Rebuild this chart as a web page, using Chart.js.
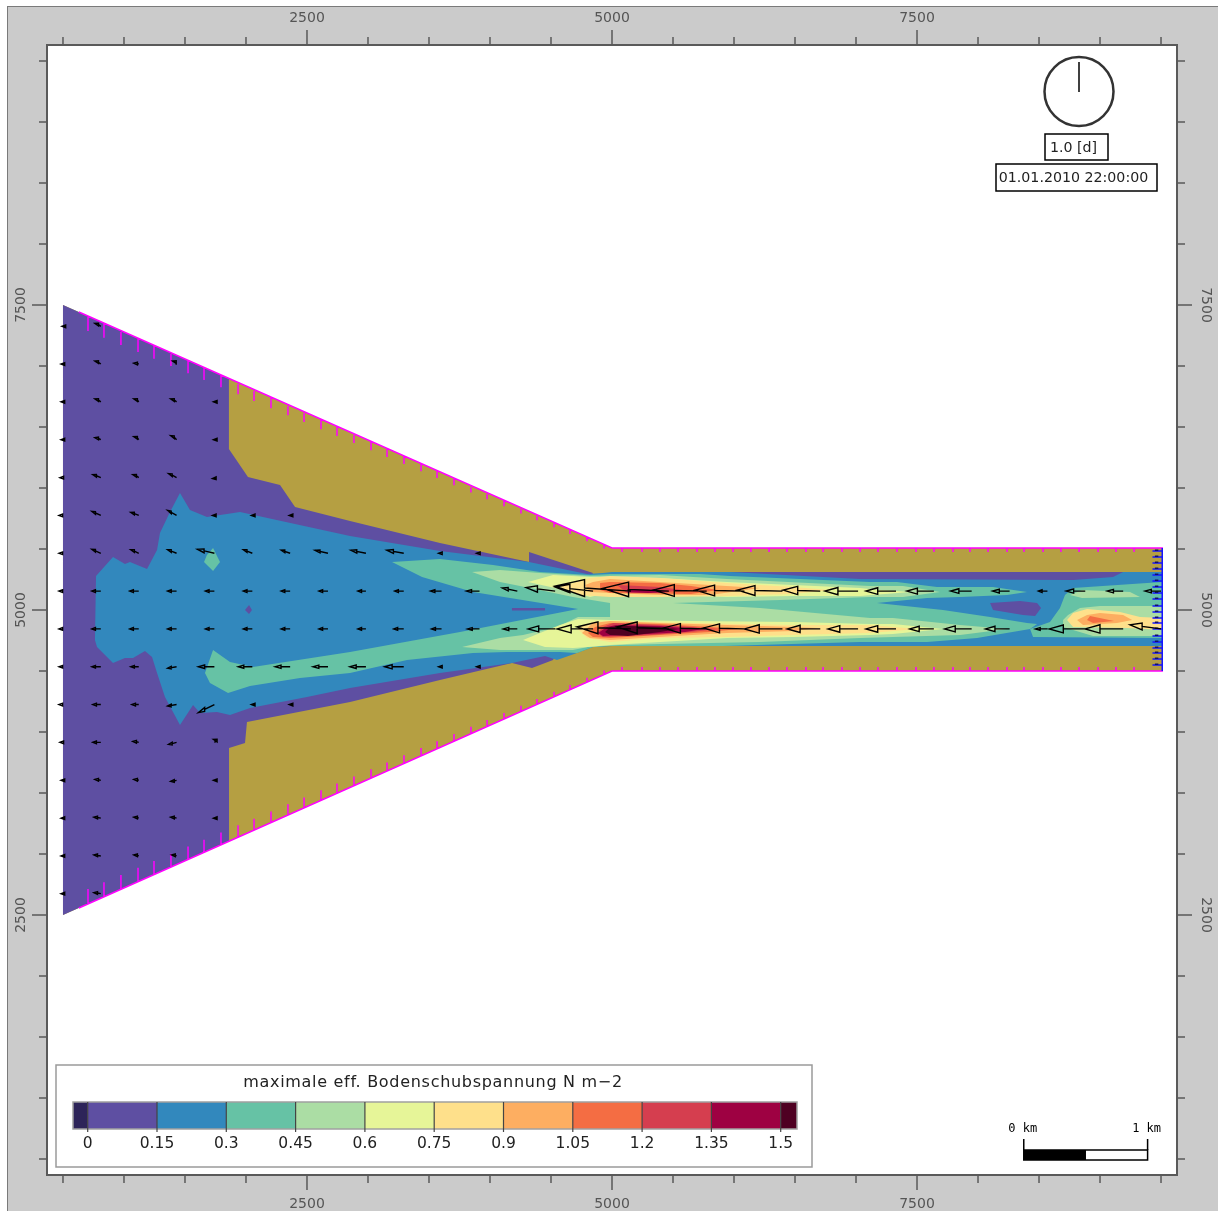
<!DOCTYPE html>
<html>
<head>
<meta charset="utf-8">
<style>
    html, body { margin: 0; padding: 0; background: #fff; }
    canvas { display: block; }
</style>
<script src="https://cdn.jsdelivr.net/npm/chart.js@4/dist/chart.umd.min.js"></script>
</head>
<body>
<canvas id="chart" width="1218" height="1211"></canvas>
<script>
// colour classes of the shear stress legend
const levelValues = [0, 0.15, 0.3, 0.45, 0.6, 0.75, 0.9, 1.05, 1.2, 1.35, 1.5];
const levelLabels = ['0', '0.15', '0.3', '0.45', '0.6', '0.75', '0.9', '1.05', '1.2', '1.35', '1.5'];
const levelColors = ['#2d2459', '#5e4fa2', '#3288bd', '#66c2a5', '#abdda4', '#e6f598', '#fee08b', '#fdae61', '#f46d43', '#d53e4f', '#9e0142', '#4f0022'];
const dryColor = '#b59f42';
const legendTitle = 'maximale eff. Bodenschubspannung N m\u22122';

const axisLabelValues = [2500, 5000, 7500];
const axisTickValues = [500, 1000, 1500, 2000, 2500, 3000, 3500, 4000, 4500, 5000, 5500, 6000, 6500, 7000, 7500, 8000, 8500, 9000, 9500];

// model area and contour regions, [x, y] in metres
const domain = [[500, 7500], [5000, 5508], [9516, 5508], [9516, 4500], [5000, 4500], [500, 2500]];
const class015 = [[500, 7500], [1860, 6895], [1860, 6320], [2016, 6090], [2279, 6025], [2402, 5844], [2853, 5730], [3590, 5549], [4320, 5393], [4320, 5475], [4844, 5303], [4517, 4590], [4344, 4525], [4180, 4566], [3590, 4426], [2853, 4246], [2008, 4082], [1992, 3910], [1861, 3869], [1861, 3107], [500, 2500]];
const class030 = [[771, 5279], [910, 5434], [1008, 5377], [1049, 5393], [1189, 5336], [1271, 5492], [1295, 5631], [1377, 5803], [1459, 5959], [1541, 5820], [1680, 5762], [1951, 5803], [2853, 5607], [3590, 5484], [4320, 5393], [4795, 5295], [4926, 5303], [5000, 5311], [9516, 5311], [9516, 4705], [5000, 4705], [4844, 4697], [4713, 4648], [4549, 4590], [4451, 4623], [4180, 4566], [3590, 4484], [2853, 4361], [2500, 4287], [2033, 4197], [1869, 4139], [1762, 4164], [1623, 4156], [1566, 4221], [1459, 4057], [1336, 4287], [1271, 4484], [1230, 4615], [1172, 4664], [1074, 4607], [1008, 4607], [910, 4566], [779, 4697], [762, 4754]];
const stripNorth = [[5967, 5311], [9189, 5311], [9107, 5270], [8779, 5246], [7033, 5254]];
const spotWest = [[2025, 5041], [2049, 5000], [2025, 4967], [1992, 5000]];
const slitThroat = [[4180, 5016], [4451, 5016], [4451, 4996], [4180, 4996]];
const spotEast = [[8099, 5057], [8345, 5074], [8484, 5057], [8517, 5016], [8468, 4951], [8369, 4959], [8123, 5000]];
const class045Spot = [[1730, 5508], [1787, 5393], [1730, 5320], [1656, 5393], [1680, 5451]];
const class045 = [[3197, 5393], [3590, 5418], [4025, 5369], [4410, 5311], [4820, 5287], [4984, 5295], [5721, 5295], [5967, 5279], [7115, 5230], [7336, 5230], [7664, 5189], [8123, 5189], [8402, 5148], [8238, 5123], [7853, 5107], [7582, 5098], [7172, 5057], [7713, 5000], [8099, 4943], [8402, 4893], [8484, 4885], [8427, 4844], [7992, 4770], [7582, 4738], [7033, 4738], [5910, 4705], [4984, 4705], [4844, 4697], [4713, 4648], [4574, 4656], [4139, 4656], [3861, 4648], [3320, 4590], [2853, 4484], [2443, 4443], [2033, 4377], [1853, 4320], [1705, 4402], [1664, 4484], [1730, 4672], [1869, 4574], [2057, 4533], [2853, 4656], [3754, 4820], [4722, 5008], [3861, 5148], [3443, 5271]];
const class045East = [[8713, 5123], [8779, 5180], [9386, 5221], [9516, 5230], [9516, 4770], [8451, 4779], [8427, 4844], [8590, 4902], [8672, 5016]];
const class060 = [[3853, 5311], [4082, 5328], [4410, 5303], [4820, 5279], [5394, 5287], [5943, 5254], [7115, 5197], [7385, 5197], [7689, 5148], [7385, 5107], [7115, 5107], [6377, 5082], [5500, 5057], [6213, 5016], [7115, 4934], [7303, 4934], [7853, 4877], [8238, 4844], [7853, 4795], [7303, 4779], [7033, 4770], [6213, 4738], [5394, 4721], [5065, 4713], [4803, 4697], [4680, 4672], [4082, 4672], [3771, 4697], [4082, 4770], [4271, 4795], [4549, 4861], [4722, 4943], [4984, 4943], [4984, 5057], [4680, 5107], [4328, 5180], [4082, 5230]];
const class060East = [[8697, 4918], [8738, 4959], [8836, 5016], [9000, 5033], [9516, 5033], [9516, 4787], [8943, 4787], [8697, 4861]];
const class060Spot = [[8754, 5123], [8853, 5164], [9246, 5148], [9328, 5107], [8853, 5098]];
const class075North = [[4312, 5230], [4517, 5287], [4820, 5271], [5394, 5262], [5943, 5230], [6484, 5205], [7033, 5180], [7197, 5164], [7443, 5148], [7033, 5115], [6484, 5115], [5943, 5107], [5394, 5123], [4959, 5139], [4820, 5107], [4680, 5148], [4533, 5180]];
const class075South = [[4271, 4754], [4410, 4811], [4574, 4877], [4722, 4926], [4984, 4918], [5648, 4910], [6484, 4902], [7115, 4885], [7303, 4885], [7713, 4844], [7303, 4803], [7115, 4795], [6484, 4779], [5943, 4770], [5394, 4738], [4984, 4713], [4803, 4697], [4680, 4689], [4451, 4697]];
const class090North = [[4574, 5189], [4820, 5262], [4984, 5279], [5394, 5262], [5943, 5221], [6484, 5189], [6787, 5164], [6484, 5131], [5943, 5115], [5394, 5107], [4984, 5107], [4738, 5123]];
const class090South = [[4713, 4852], [4844, 4902], [4984, 4910], [5648, 4893], [6484, 4877], [7115, 4877], [7509, 4844], [7115, 4811], [6484, 4795], [5943, 4779], [5394, 4770], [4984, 4738], [4795, 4770]];
const class090East = [[8730, 4918], [8779, 4975], [8894, 5008], [9164, 4984], [9328, 4943], [9516, 4934], [9516, 4836], [9222, 4852], [8779, 4861]];
const class105North = [[4779, 5205], [4844, 5230], [4984, 5254], [5394, 5230], [5803, 5205], [6213, 5180], [5803, 5123], [5394, 5123], [4984, 5139], [4820, 5148]];
const class105South = [[4754, 4811], [4844, 4893], [4984, 4910], [5394, 4893], [5943, 4877], [6484, 4861], [6689, 4852], [6484, 4828], [5943, 4811], [5517, 4787], [4984, 4754], [4820, 4770]];
const class105East = [[8812, 4918], [8894, 4959], [9000, 4975], [9189, 4959], [9263, 4918], [9140, 4893], [8861, 4877]];
const class120North = [[4902, 5221], [4984, 5230], [5394, 5221], [5648, 5197], [5869, 5164], [5648, 5131], [4984, 5139], [4902, 5164]];
const class120South = [[4803, 4811], [4861, 4861], [4984, 4893], [5394, 4885], [5803, 4861], [6033, 4844], [5803, 4820], [5394, 4795], [4984, 4770], [4844, 4779]];
const class120East = [[8894, 4918], [8918, 4951], [9115, 4910], [8943, 4893]];
const class135North = [[5041, 5205], [5394, 5189], [5582, 5164], [5394, 5139], [5123, 5139]];
const class135South = [[4877, 4811], [4926, 4861], [5008, 4893], [5394, 4877], [5648, 4861], [5869, 4844], [5648, 4820], [5320, 4795], [4926, 4779]];
const class150North = [[5123, 5172], [5369, 5164], [5459, 5148], [5295, 5139], [5131, 5148]];
const class150South = [[4886, 4811], [4959, 4861], [5033, 4877], [5394, 4869], [5599, 4852], [5746, 4844], [5599, 4820], [5295, 4803], [4926, 4787]];
const classTopSouth = [[4943, 4820], [4984, 4861], [5107, 4869], [5394, 4861], [5541, 4844], [5394, 4820], [5131, 4787], [4984, 4795]];

// current vectors: tail on the grid, du / dv = drawn arrow in metres
const arrowColumns = [500, 810, 1121, 1431, 1741, 2052, 2362, 2672, 2983, 3293, 3603, 3914, 4224, 4534, 4845, 5155, 5466, 5776, 6086, 6397, 6707, 7017, 7328, 7638, 7948, 8259, 8569, 8879, 9190, 9500];
const arrowRows = [7325, 7016, 6706, 6396, 6085, 5775, 5465, 5155, 4845, 4535, 4225, 3915, 3604, 3294, 2984, 2675];
const arrowDu = [
    [8, 49],
    [16, 49, 41, 33],
    [16, 49, 41, 49, 8],
    [16, 49, 41, 49, 8],
    [25, 66, 49, 66, 16],
    [33, 74, 66, 74, 16, 8, 8],
    [33, 74, 66, 74, 139, 74, 74, 107, 123, 139, 25, 25],
    [33, 74, 74, 74, 74, 74, 74, 74, 66, 74, 90, 107, 123, 238, 312, 623, 541, 435, 402, 369, 303, 271, 246, 221, 172, 139, 74, 156, 131, 131],
    [33, 74, 74, 74, 74, 74, 74, 74, 66, 82, 82, 98, 115, 221, 295, 443, 426, 353, 336, 312, 271, 246, 246, 197, 221, 197, 98, 295, 312, 254],
    [33, 74, 66, 74, 131, 115, 123, 123, 131, 156, 25, 25],
    [33, 66, 57, 74, 131, 8, 8],
    [25, 66, 49, 66, 8],
    [16, 49, 41, 49, 8],
    [16, 57, 41, 49, 8],
    [16, 57, 41, 41],
    [16, 57]
];
const arrowDv = [
    [0, 25],
    [0, 25, 8, 25],
    [0, 25, 25, 25, 0],
    [0, 16, 25, 33, 0],
    [0, 25, 25, 33, -8],
    [0, 33, 25, 41, 0, 0, 0],
    [0, 33, 29, 29, 33, 29, 25, 25, 25, 25, 0, 0],
    [0, 0, 0, 0, 0, 0, 0, 0, 0, 0, 0, 0, 25, 29, 33, 41, 22, 8, 8, 8, 8, 0, 0, 0, 0, 0, 0, 0, 0, 0],
    [0, 0, 0, 0, 0, 0, 0, 0, 0, 0, 0, 0, 0, 0, 0, 16, 16, 8, 8, 0, 0, 0, 0, 0, 0, 0, 0, 0, 0, 33],
    [0, 0, 0, -12, 0, 0, 0, 0, 0, 0, 0, 0],
    [0, 0, 0, -12, -66, 0, 0],
    [0, 0, 8, -16, 25],
    [0, 8, 8, -8, 0],
    [0, 8, 8, 8, 0],
    [0, 8, 8, 8],
    [0, 8]
];

// boundary marks along the land edge and the open boundary
const slopeMarkX = [705, 836, 975, 1115, 1246, 1385, 1525, 1656, 1795, 1935, 2066, 2205, 2344, 2476, 2615, 2746, 2885, 3025, 3156, 3295, 3435, 3566, 3705, 3844, 3976, 4115, 4254, 4385, 4525, 4656, 4795, 4935];
const slopeMarkLength = [123, 120, 117, 114, 111, 108, 105, 103, 100, 97, 94, 91, 88, 85, 82, 79, 76, 73, 70, 67, 64, 61, 59, 56, 53, 50, 47, 44, 41, 38, 35, 33];
const channelMarkX = [5082, 5246, 5393, 5541, 5697, 5844, 5992, 6139, 6287, 6434, 6590, 6730, 6885, 7033, 7180, 7336, 7492, 7639, 7795, 7934, 8082, 8238, 8377, 8533, 8680, 8828, 8984, 9131, 9279];
const channelMarkLength = 33;
const inflowMarkY = [5484, 5435, 5385, 5336, 5287, 5238, 5189, 5139, 5090, 5033, 4984, 4934, 4893, 4844, 4787, 4738, 4689, 4648, 4598, 4549];

const toPoints = (pairs) => pairs.map(([x, y]) => ({ x, y }));
const GAP = { x: NaN, y: NaN };

function regionDataset(pairs, color) {
    return {
        data: toPoints(pairs),
        showLine: true,
        fill: 'shape',
        backgroundColor: color,
        borderColor: color,
        borderWidth: 0,
        pointRadius: 0,
        tension: 0
    };
}

function pathDataset(points, color, width) {
    return {
        data: points,
        showLine: true,
        fill: false,
        borderColor: color,
        borderWidth: width,
        pointRadius: 0,
        tension: 0,
        spanGaps: false
    };
}

function buildArrowPath() {
    const points = [];
    arrowRows.forEach((y, row) => {
        arrowDu[row].forEach((du, col) => {
            const dv = arrowDv[row][col];
            const tail = { x: arrowColumns[col], y };
            const tip = { x: tail.x - du, y: y + dv };
            // tiny arrows still show a head, as in the original
            const headLength = Math.max(du * 0.39, 30);
            const base = { x: tip.x + headLength, y: tip.y - dv * 0.39 };
            const half = Math.max(Math.hypot(du, dv) * 0.11, 11);
            points.push(tail, base,
                { x: base.x, y: base.y + half }, tip, { x: base.x, y: base.y - half }, base, GAP);
        });
    });
    return points;
}

function slopeEdge(x, north) {
    const drop = (x - 500) * (1992 / 4500);
    return north ? 7500 - drop : 2500 + drop * (2000 / 1992);
}

function buildMagentaPath() {
    const points = [
        { x: 630, y: slopeEdge(630, true) }, { x: 5000, y: 5508 }, { x: 9516, y: 5508 }, GAP,
        { x: 630, y: slopeEdge(630, false) }, { x: 5000, y: 4500 }, { x: 9516, y: 4500 }, GAP
    ];
    slopeMarkX.forEach((x, i) => {
        const north = slopeEdge(x, true);
        const south = slopeEdge(x, false);
        points.push({ x, y: north }, { x, y: north - slopeMarkLength[i] }, GAP);
        points.push({ x, y: south }, { x, y: south + slopeMarkLength[i] }, GAP);
    });
    channelMarkX.forEach((x) => {
        points.push({ x, y: 5508 }, { x, y: 5508 - channelMarkLength }, GAP);
        points.push({ x, y: 4500 }, { x, y: 4500 + channelMarkLength }, GAP);
    });
    return points;
}

function buildInflowPath() {
    const points = [{ x: 9510, y: 5508 }, { x: 9510, y: 4500 }, GAP];
    inflowMarkY.forEach((y) => {
        points.push({ x: 9430, y }, { x: 9516, y }, GAP);
    });
    return points;
}

function buildInflowHeads() {
    const points = [];
    inflowMarkY.forEach((y) => {
        points.push({ x: 9450, y: y + 6 }, { x: 9478, y: y + 6 }, GAP);
    });
    return points;
}

const regions = [
    [domain, dryColor],
    [class015, levelColors[1]],
    [class030, levelColors[2]],
    [stripNorth, levelColors[1]],
    [spotWest, levelColors[1]],
    [slitThroat, levelColors[1]],
    [class045, levelColors[3]],
    [class045East, levelColors[3]],
    [class045Spot, levelColors[3]],
    [spotEast, levelColors[1]],
    [class060, levelColors[4]],
    [class060East, levelColors[4]],
    [class060Spot, levelColors[4]],
    [class075North, levelColors[5]],
    [class075South, levelColors[5]],
    [class090North, levelColors[6]],
    [class090South, levelColors[6]],
    [class090East, levelColors[6]],
    [class105North, levelColors[7]],
    [class105South, levelColors[7]],
    [class105East, levelColors[7]],
    [class120North, levelColors[8]],
    [class120South, levelColors[8]],
    [class120East, levelColors[8]],
    [class135North, levelColors[9]],
    [class135South, levelColors[9]],
    [class150North, levelColors[10]],
    [class150South, levelColors[10]],
    [classTopSouth, levelColors[11]]
];

const datasets = regions.map(([pairs, color]) => regionDataset(pairs, color));
datasets.push(pathDataset(buildMagentaPath(), '#ff00ff', 1.5));
datasets.push(pathDataset(buildInflowPath(), '#1414ff', 1.5));
datasets.push(pathDataset(buildInflowHeads(), '#10106a', 1.5));
datasets.push(pathDataset(buildArrowPath(), '#000000', 1.4));
// later entries paint on top
datasets.forEach((d, i) => { d.order = datasets.length - i; });

const TICK_COLOR = '#5a5a5a';
const TEXT_COLOR = '#222222';

const backdropPlugin = {
    id: 'backdrop',
    beforeDraw(chart) {
        const { ctx, chartArea: a } = chart;
        ctx.save();
        ctx.fillStyle = '#ffffff';
        ctx.fillRect(0, 0, chart.width, chart.height);
        ctx.fillStyle = '#cbcbcb';
        ctx.fillRect(8, 7, chart.width - 8, chart.height - 7);
        ctx.strokeStyle = '#7a7a7a';
        ctx.lineWidth = 1;
        ctx.strokeRect(7.5, 6.5, chart.width, chart.height);
        ctx.fillStyle = '#ffffff';
        ctx.fillRect(a.left, a.top, a.right - a.left, a.bottom - a.top);
        ctx.restore();
    }
};

// the axes of the original carry two tick lengths
const axisTicksPlugin = {
    id: 'axisTicks',
    afterDraw(chart) {
        const { ctx, chartArea: a, scales } = chart;
        ctx.save();
        ctx.strokeStyle = TICK_COLOR;
        ctx.lineWidth = 1.5;
        ctx.beginPath();
        axisTickValues.forEach((v) => {
            const len = axisLabelValues.includes(v) ? 15 : 8;
            const px = scales.x.getPixelForValue(v);
            const py = scales.y.getPixelForValue(v);
            ctx.moveTo(px, a.top); ctx.lineTo(px, a.top - len);
            ctx.moveTo(px, a.bottom); ctx.lineTo(px, a.bottom + len);
            ctx.moveTo(a.left, py); ctx.lineTo(a.left - len, py);
            ctx.moveTo(a.right, py); ctx.lineTo(a.right + len, py);
        });
        ctx.stroke();
        ctx.restore();
    }
};

function boxedText(ctx, text, left, top, right, bottom) {
    ctx.strokeStyle = '#000';
    ctx.lineWidth = 1.5;
    ctx.strokeRect(left, top, right - left, bottom - top);
    ctx.fillText(text, (left + right) / 2 - 3, (top + bottom) / 2 + 1);
}

const overlayPlugin = {
    id: 'overlay',
    afterDatasetsDraw(chart) {
        const { ctx } = chart;
        ctx.save();

        // clock
        ctx.strokeStyle = '#333';
        ctx.lineWidth = 2.5;
        ctx.beginPath();
        ctx.arc(1079, 91.5, 34.5, 0, Math.PI * 2);
        ctx.stroke();
        ctx.strokeStyle = '#000';
        ctx.lineWidth = 1.5;
        ctx.beginPath();
        ctx.moveTo(1079, 62);
        ctx.lineTo(1079, 92);
        ctx.stroke();

        ctx.fillStyle = TEXT_COLOR;
        ctx.textAlign = 'center';
        ctx.textBaseline = 'middle';
        ctx.font = '14.2px "DejaVu Sans"';
        boxedText(ctx, '1.0 [d]', 1045, 134, 1108, 160);
        boxedText(ctx, '01.01.2010 22:00:00', 996, 164, 1157, 191);

        // colour legend
        ctx.fillStyle = '#fff';
        ctx.fillRect(56, 1065, 756, 102);
        ctx.strokeStyle = '#9a9a9a';
        ctx.lineWidth = 1.5;
        ctx.strokeRect(56, 1065, 756, 102);
        const barX = (v) => 87.7 + v / 0.15 * 69.3;
        const barLeft = 73;
        const barRight = 797;
        levelColors.forEach((color, i) => {
            const from = i === 0 ? barLeft : barX(levelValues[i - 1]);
            const to = i === levelColors.length - 1 ? barRight : barX(levelValues[i]);
            ctx.fillStyle = color;
            ctx.fillRect(from, 1102, to - from, 27);
        });
        ctx.strokeStyle = '#a0a0a0';
        ctx.strokeRect(barLeft, 1102, barRight - barLeft, 27);
        ctx.strokeStyle = '#444';
        ctx.lineWidth = 1.2;
        ctx.beginPath();
        levelValues.forEach((v) => {
            ctx.moveTo(barX(v), 1102);
            ctx.lineTo(barX(v), 1132);
        });
        ctx.stroke();
        ctx.fillStyle = TEXT_COLOR;
        ctx.font = '15.5px "DejaVu Sans"';
        levelLabels.forEach((label, i) => {
            ctx.fillText(label, barX(levelValues[i]), 1144);
        });
        ctx.font = '16px "DejaVu Sans"';
        ctx.letterSpacing = '0.7px';
        ctx.fillText(legendTitle, 433, 1083);
        ctx.letterSpacing = '0px';

        // scale bar, 1 km
        const kmLeft = chart.scales.x.getPixelForValue(8375);
        const kmMid = chart.scales.x.getPixelForValue(8885);
        const kmRight = chart.scales.x.getPixelForValue(9390);
        ctx.fillStyle = '#000';
        ctx.fillRect(kmLeft, 1150, kmMid - kmLeft, 10);
        ctx.strokeStyle = '#000';
        ctx.lineWidth = 1.5;
        ctx.strokeRect(kmLeft, 1150, kmRight - kmLeft, 10);
        ctx.beginPath();
        ctx.moveTo(kmLeft, 1139); ctx.lineTo(kmLeft, 1150);
        ctx.moveTo(kmRight, 1139); ctx.lineTo(kmRight, 1150);
        ctx.stroke();
        ctx.font = '12px "DejaVu Sans Mono"';
        ctx.fillText('0 km', kmLeft - 1, 1129);
        ctx.fillText('1 km', kmRight - 1, 1129);

        ctx.restore();
    }
};

function axisOptions(position, fixedSize, padding, rotation) {
    const horizontal = position === 'top' || position === 'bottom';
    return {
        type: 'linear',
        position,
        min: 369,
        max: 9631,
        grid: { drawOnChartArea: false, drawTicks: false },
        border: { display: true, color: TICK_COLOR, width: 2 },
        ticks: {
            color: '#555',
            font: { family: '"DejaVu Sans"', size: 14 },
            padding,
            autoSkip: false,
            minRotation: rotation,
            maxRotation: rotation,
            crossAlign: horizontal ? 'near' : 'center',
            callback: (v) => String(v)
        },
        afterBuildTicks(axis) {
            axis.ticks = axisLabelValues.map((value) => ({ value }));
        },
        afterFit(axis) {
            if (horizontal) axis.height = fixedSize; else axis.width = fixedSize;
        }
    };
}

new Chart(document.getElementById('chart').getContext('2d'), {
    type: 'scatter',
    data: { datasets },
    options: {
        responsive: false,
        animation: false,
        events: [],
        layout: { padding: 0 },
        plugins: { legend: { display: false }, tooltip: { enabled: false }, title: { display: false } },
        scales: {
            x: axisOptions('bottom', 36, 21, 0),
            xTop: axisOptions('top', 45, 18, 0),
            y: axisOptions('left', 47, 8, 90),
            yRight: axisOptions('right', 41, 11, -90)
        }
    },
    plugins: [backdropPlugin, axisTicksPlugin, overlayPlugin]
});
</script>
</body>
</html>
